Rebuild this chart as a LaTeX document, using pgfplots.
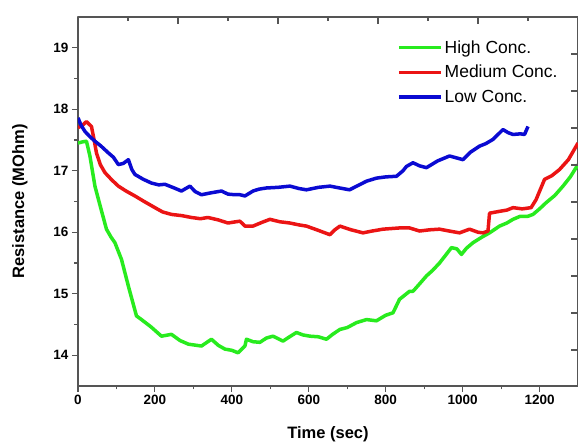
\documentclass[border=0pt]{standalone}
\usepackage{fontspec}
\setmainfont{Liberation Sans}
\usepackage{pgfplots}
\pgfplotsset{compat=1.18}

\definecolor{hiGreen}{RGB}{40,235,30}
\definecolor{medRed}{RGB}{235,20,20}
\definecolor{lowBlue}{RGB}{10,10,210}
\definecolor{axGray}{RGB}{85,85,85}

\begin{document}
\begin{tikzpicture}
\begin{axis}[
    name=ax,
    scale only axis,
    width=500pt, height=369pt,
    xmin=0, xmax=1300,
    ymin=13.5, ymax=19.5,
    xtick={0,200,...,1200},
    ytick={14,15,...,19},
    minor x tick num=1,
    minor y tick num=1,
    xtick pos=left, ytick pos=left,
    tick align=outside,
    major tick length=6pt, minor tick length=3.5pt,
    axis line style={axGray, line width=1.3pt},
    every tick/.style={axGray, line width=1.1pt},
    xlabel={Time (sec)},
    ylabel={Resistance (MOhm)},
    label style={font=\bfseries\fontsize{16.5}{18}\selectfont},
    xlabel style={yshift=-15pt},
    ylabel style={yshift=19pt},
    tick label style={font=\bfseries\fontsize{13.5}{15}\selectfont},
    /pgf/number format/assume math mode=true,
    /pgf/number format/1000 sep={},
    legend style={at={(rel axis cs:0.638,0.942)}, anchor=north west,
        draw=none, fill=none, font=\fontsize{17.5}{19}\selectfont,
        row sep=6.5pt, inner sep=0pt},
    legend cell align=left,
    legend image code/.code={\draw[#1, line width=3.5pt] (0pt,0pt) -- (42pt,0pt);},
    line join=round,
]
\addplot[hiGreen, line width=3.5pt] coordinates {
    (0,17.45) (12,17.47) (22,17.48) (31,17.24) (44,16.75) (58,16.42) (74,16.05)
    (86,15.92) (96,15.83) (113,15.56) (132,15.10) (152,14.64) (165,14.58)
    (190,14.46) (217,14.31) (243,14.34) (265,14.24) (287,14.18) (321,14.15)
    (347,14.26) (365,14.16) (382,14.10) (400,14.08) (416,14.04) (434,14.15)
    (438,14.26) (455,14.22) (473,14.21) (490,14.28) (507,14.31) (533,14.23)
    (550,14.30) (568,14.37) (585,14.33) (603,14.31) (625,14.30) (646,14.26)
    (662,14.34) (681,14.42) (700,14.45) (724,14.53) (750,14.58) (776,14.56)
    (800,14.65) (819,14.69) (836,14.91) (862,15.04) (871,15.04) (888,15.16)
    (906,15.29) (922,15.38) (940,15.50) (955,15.62) (971,15.75) (985,15.73)
    (997,15.64) (1010,15.74) (1027,15.83) (1050,15.92) (1070,15.99)
    (1096,16.10) (1115,16.15) (1131,16.21) (1150,16.26) (1170,16.26)
    (1183,16.29) (1200,16.38) (1217,16.48) (1240,16.60) (1261,16.75)
    (1280,16.90) (1300,17.10)
};
\addlegendentry{High Conc.}
\addplot[medRed, line width=3.5pt] coordinates {
    (0,17.70) (12,17.74) (22,17.80) (35,17.72) (42,17.50) (48,17.29)
    (58,17.10) (70,16.97) (88,16.85) (105,16.75) (125,16.67) (148,16.59)
    (172,16.50) (200,16.40) (220,16.33) (243,16.29) (270,16.27) (295,16.24)
    (318,16.22) (338,16.24) (365,16.20) (390,16.15) (410,16.17) (421,16.18)
    (434,16.10) (455,16.10) (478,16.16) (499,16.21) (525,16.17) (551,16.15)
    (574,16.12) (594,16.10) (625,16.03) (655,15.96) (668,16.04) (681,16.10)
    (710,16.04) (741,15.99) (765,16.02) (793,16.05) (836,16.07) (862,16.07)
    (888,16.02) (915,16.04) (940,16.05) (965,16.02) (992,15.99) (1018,16.05)
    (1040,16.00) (1053,15.99) (1066,16.02) (1070,16.31) (1096,16.34)
    (1115,16.36) (1131,16.40) (1155,16.38) (1178,16.40) (1191,16.53)
    (1213,16.86) (1232,16.92) (1252,17.02) (1275,17.18) (1300,17.45)
};
\addlegendentry{Medium Conc.}
\addplot[lowBlue, line width=3.5pt] coordinates {
    (0,17.86) (8,17.74) (18,17.64) (30,17.56) (44,17.48) (60,17.40)
    (79,17.29) (92,17.22) (105,17.10) (118,17.12) (131,17.18) (140,17.02)
    (148,16.94) (170,16.86) (191,16.80) (210,16.77) (226,16.78) (250,16.72)
    (269,16.67) (291,16.75) (305,16.66) (321,16.61) (345,16.64) (373,16.67)
    (390,16.62) (408,16.61) (421,16.61) (434,16.59) (455,16.67) (470,16.70)
    (490,16.72) (520,16.73) (551,16.75) (575,16.71) (594,16.69) (625,16.73)
    (655,16.75) (680,16.72) (706,16.69) (728,16.76) (750,16.83) (776,16.88)
    (800,16.90) (828,16.91) (845,17.00) (854,17.07) (871,17.13) (888,17.08)
    (906,17.05) (935,17.16) (966,17.24) (1001,17.18) (1020,17.30)
    (1044,17.40) (1060,17.44) (1079,17.51) (1105,17.67) (1118,17.62)
    (1131,17.59) (1150,17.60) (1161,17.59) (1170,17.72)
};
\addlegendentry{Low Conc.}
\end{axis}
% secondary (unlabelled) axis ticks on top and right, as in the source figure
\begin{axis}[
    scale only axis,
    width=500pt, height=369pt,
    at={(ax.south west)}, anchor=south west,
    xmin=0, xmax=500, ymin=0, ymax=369,
    xtick={0,100,...,500}, minor x tick num=1,
    ytick={36,73,110,147,184,221,258,295,332},
    xticklabels={}, yticklabels={},
    xtick pos=right, ytick pos=right,
    tick align=inside,
    major tick length=7pt, minor tick length=4pt,
    axis line style={draw=none},
    every tick/.style={axGray, line width=1.1pt},
]
\end{axis}
\pgfresetboundingbox
\path ([shift={(-78pt,-59pt)}]ax.south west) rectangle ([shift={(0pt,17pt)}]ax.north east);
\end{tikzpicture}
\end{document}
